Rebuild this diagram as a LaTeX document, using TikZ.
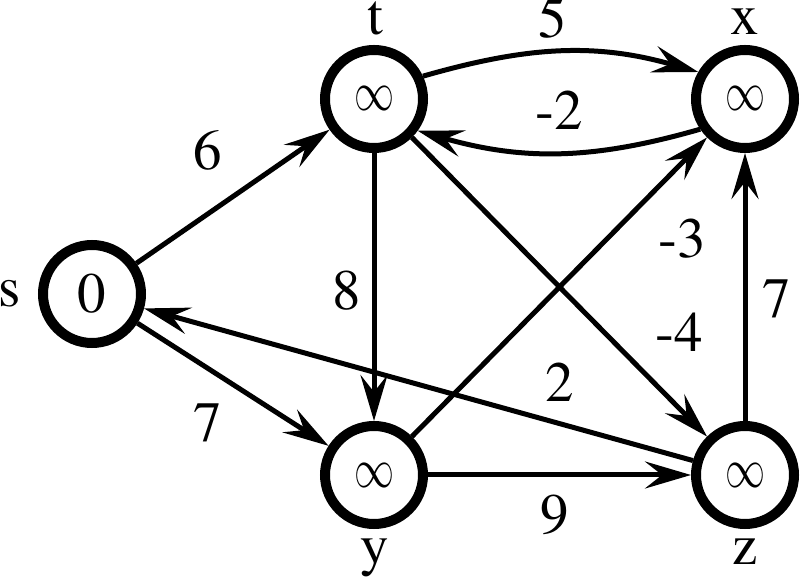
\documentclass[tikz,border=0pt]{standalone}
\usepackage{fontspec}
\usepackage{graphicx}
\setmainfont{texgyretermes}[Extension=.otf, UprightFont=*-regular, BoldFont=*-bold, ItalicFont=*-italic, BoldItalicFont=*-bolditalic]
\usetikzlibrary{arrows.meta}
\newcommand{\infsym}{\resizebox{40pt}{24pt}{$\infty$}}
\begin{document}
\begin{tikzpicture}[x=1pt,y=1pt,
  vert/.style={circle,draw,line width=10pt,minimum size=98pt,inner sep=0pt,font=\fontsize{57}{60}\selectfont},
  lbl/.style={anchor=base,inner sep=0pt,font=\fontsize{57}{60}\selectfont},
  edge/.style={line width=5pt,-{Stealth[length=46pt,width=27pt,inset=17pt]}}]
\useasboundingbox (0,0) rectangle (800,578);
\node[vert] (s) at (92,284) {0};
\node[vert] (t) at (374,479) {\infsym};
\node[vert] (x) at (745,479) {\infsym};
\node[vert] (y) at (374,103) {\infsym};
\node[vert] (z) at (745,103) {\infsym};
\node[lbl] (ls) at (10,271) {s};
\node[lbl] (lt) at (375,543) {t};
\node[lbl] (lx) at (745,543) {x};
\node[lbl] (ly) at (375,13) {y};
\node[lbl] (lz) at (745,13) {z};
\draw[edge] (s) -- (t);
\draw[edge] (s) -- (y);
\draw[edge] (t.25) to[out=16,in=164] (x.150);
\draw[edge] (x.214) to[out=196,in=-16] (t.-36);
\draw[edge] (t) -- (y);
\draw[edge] (t) -- (z);
\draw[edge] (y) -- (x);
\draw[edge] (y) -- (z);
\draw[edge] (z) -- (s);
\draw[edge] (z) -- (x);
\node[lbl] (w5) at (553,540) {5};
\node[lbl] (wm2) at (559,448) {-2};
\node[lbl] (w6) at (208,408) {6};
\node[lbl] (w8) at (347,268) {8};
\node[lbl] (wm3) at (682,320) {-3};
\node[lbl] (wm4) at (679,226) {-4};
\node[lbl] (w7r) at (777,260) {7};
\node[lbl] (w2) at (560,176) {2};
\node[lbl] (w7l) at (208,136) {7};
\node[lbl] (w9) at (555,45) {9};
\end{tikzpicture}
\end{document}
